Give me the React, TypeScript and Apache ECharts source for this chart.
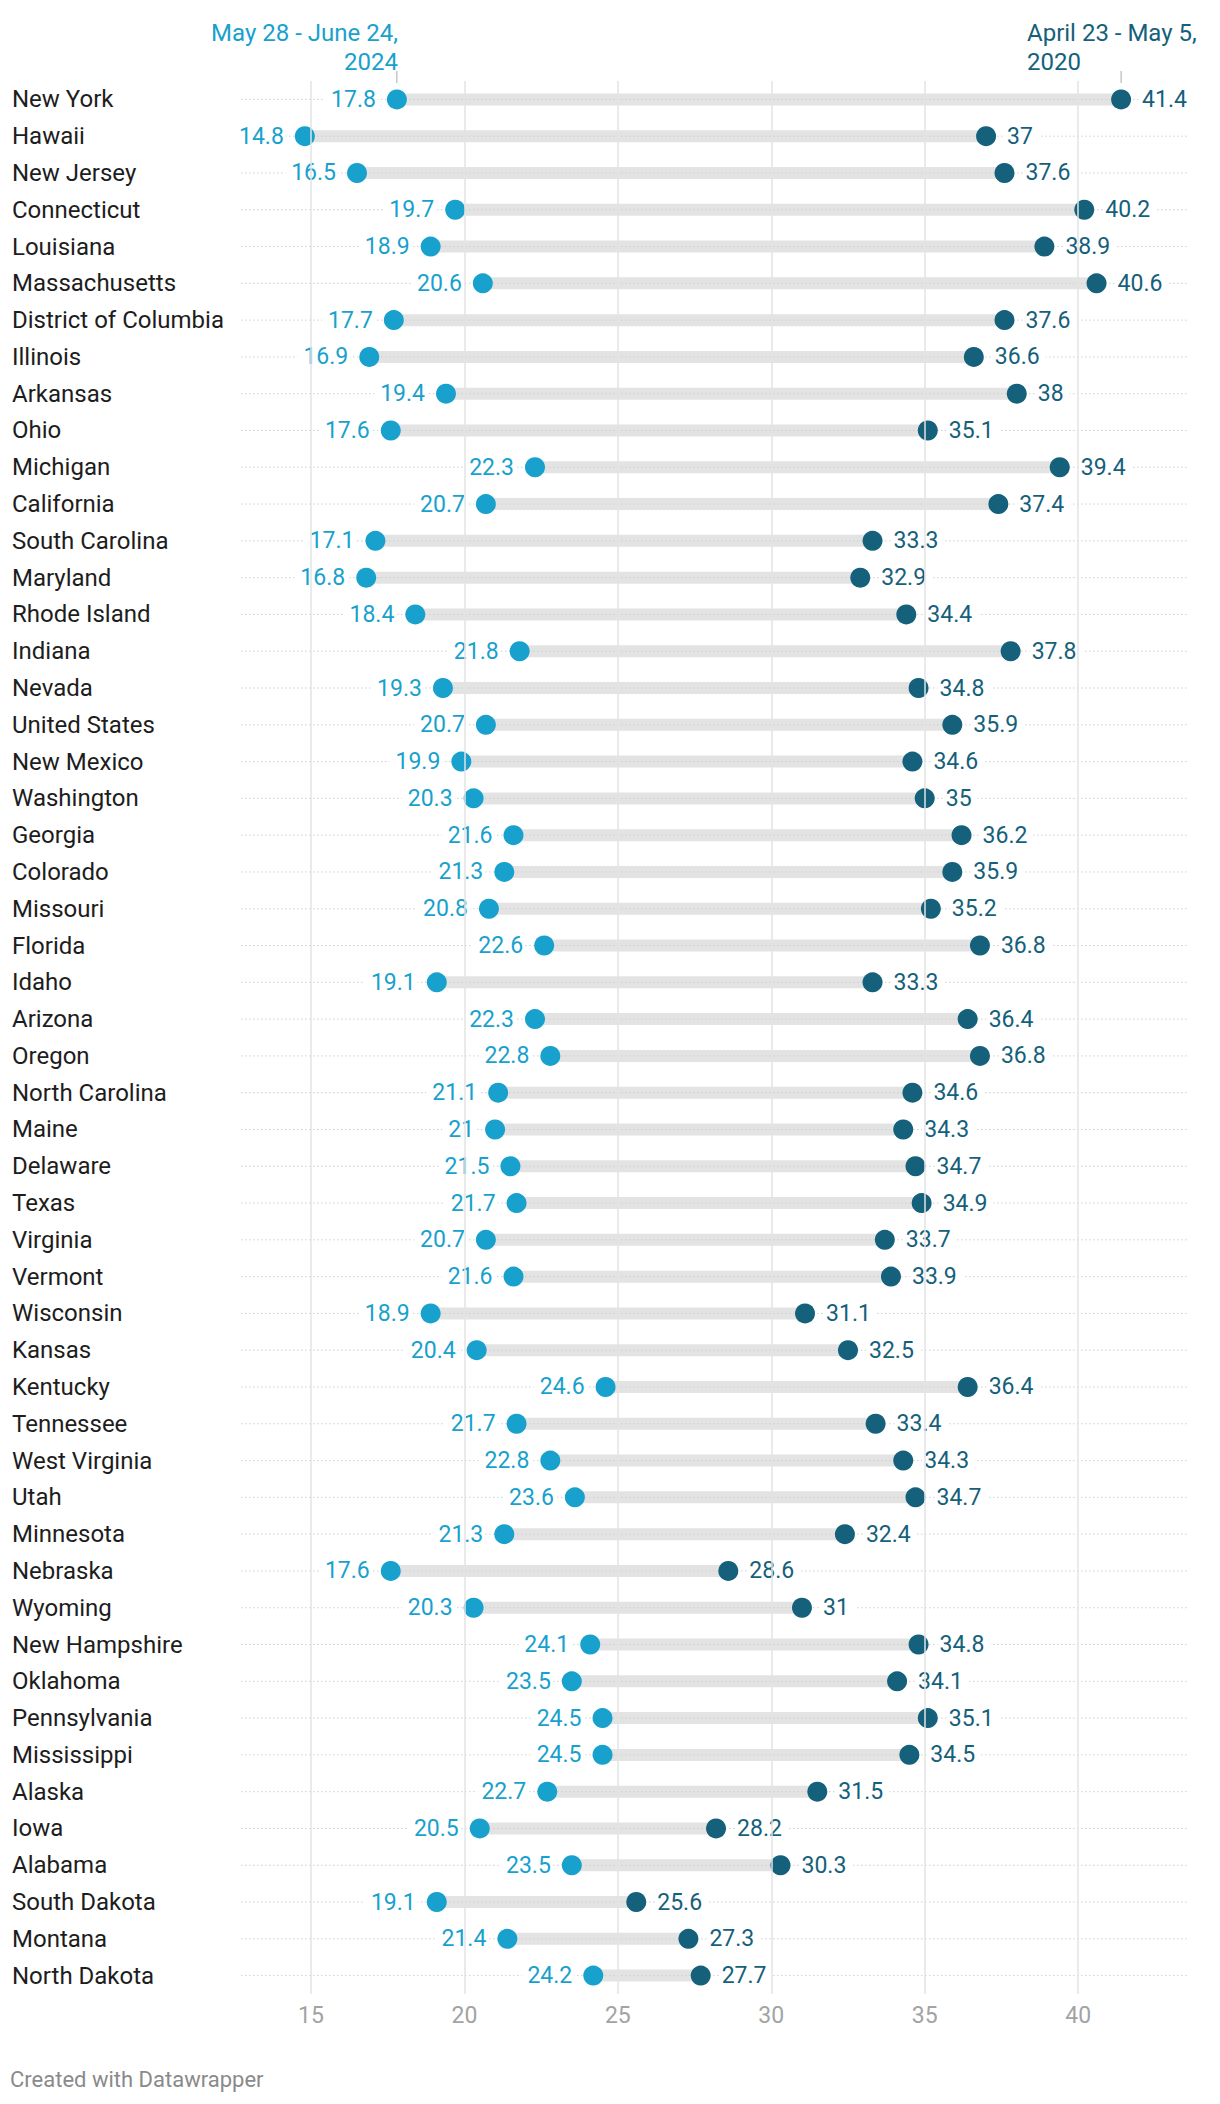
import React, { useEffect, useRef } from "react";
import * as echarts from "echarts";

const states = [
  "New York", "Hawaii", "New Jersey", "Connecticut", "Louisiana", "Massachusetts",
  "District of Columbia", "Illinois", "Arkansas", "Ohio", "Michigan", "California",
  "South Carolina", "Maryland", "Rhode Island", "Indiana", "Nevada", "United States",
  "New Mexico", "Washington", "Georgia", "Colorado", "Missouri", "Florida", "Idaho",
  "Arizona", "Oregon", "North Carolina", "Maine", "Delaware", "Texas", "Virginia",
  "Vermont", "Wisconsin", "Kansas", "Kentucky", "Tennessee", "West Virginia", "Utah",
  "Minnesota", "Nebraska", "Wyoming", "New Hampshire", "Oklahoma", "Pennsylvania",
  "Mississippi", "Alaska", "Iowa", "Alabama", "South Dakota", "Montana", "North Dakota",
];

const v2024 = [
  17.8, 14.8, 16.5, 19.7, 18.9, 20.6, 17.7, 16.9, 19.4, 17.6, 22.3, 20.7, 17.1, 16.8,
  18.4, 21.8, 19.3, 20.7, 19.9, 20.3, 21.6, 21.3, 20.8, 22.6, 19.1, 22.3, 22.8, 21.1,
  21, 21.5, 21.7, 20.7, 21.6, 18.9, 20.4, 24.6, 21.7, 22.8, 23.6, 21.3, 17.6, 20.3,
  24.1, 23.5, 24.5, 24.5, 22.7, 20.5, 23.5, 19.1, 21.4, 24.2,
];

const v2020 = [
  41.4, 37, 37.6, 40.2, 38.9, 40.6, 37.6, 36.6, 38, 35.1, 39.4, 37.4, 33.3, 32.9,
  34.4, 37.8, 34.8, 35.9, 34.6, 35, 36.2, 35.9, 35.2, 36.8, 33.3, 36.4, 36.8, 34.6,
  34.3, 34.7, 34.9, 33.7, 33.9, 31.1, 32.5, 36.4, 33.4, 34.3, 34.7, 32.4, 28.6, 31,
  34.8, 34.1, 35.1, 34.5, 31.5, 28.2, 30.3, 25.6, 27.3, 27.7,
];

const xTicks = [15, 20, 25, 30, 35, 40];
const label2024 = "May 28 - June 24,\n2024";
const label2020 = "April 23 - May 5,\n2020";
const footer = "Created with Datawrapper";

const C2024 = "#18a1cd";
const C2020 = "#15607a";
const FONT = "Roboto, 'Noto Sans', sans-serif";

export default function App() {
  const ref = useRef<HTMLDivElement>(null);

  useEffect(() => {
    document.body.style.margin = "0";
    const chart = echarts.init(ref.current!, null, { renderer: "svg" });
    const XMIN = 12.72;
    const XMAX = 43.58;

    chart.setOption({
      animation: false,
      textStyle: { fontFamily: FONT },
      grid: { left: 241, right: 32, top: 81, height: 1913, containLabel: false },
      xAxis: {
        type: "value",
        min: XMIN,
        max: XMAX,
        axisLine: { show: false },
        axisTick: { show: false },
        splitLine: { show: false },
        axisLabel: {
          customValues: xTicks,
          color: "#a3a3a3",
          fontSize: 23,
          margin: 10,
          fontFamily: FONT,
        },
      },
      yAxis: {
        type: "category",
        inverse: true,
        data: states,
        axisLine: { show: false },
        axisTick: { show: false },
        splitLine: { show: false },
        axisLabel: {
          align: "left",
          margin: 229,
          color: "#1d1d1d",
          fontSize: 24,
          fontFamily: FONT,
        },
      },
      series: [
        {
          type: "custom",
          name: "rows",
          z: 1,
          data: states.map((s, i) => [i, v2024[i], v2020[i]]),
          encode: { x: [1, 2], y: 0 },
          renderItem: (params: any, api: any) => {
            const i = api.value(0);
            const a = api.value(1);
            const b = api.value(2);
            const pL = api.coord([XMIN, i]);
            const pR = api.coord([XMAX, i]);
            const pa = api.coord([a, i]);
            const pb = api.coord([b, i]);
            return {
              type: "group",
              children: [
                {
                  type: "rect",
                  shape: { x: pa[0], y: pa[1] - 6, width: pb[0] - pa[0], height: 12 },
                  style: { fill: "#e3e3e3" },
                },
                {
                  type: "line",
                  shape: { x1: pL[0], y1: pL[1], x2: pR[0], y2: pR[1] },
                  style: { stroke: "#cfcfcf", lineWidth: 1, lineDash: [1.5, 2.5] },
                },
              ],
            };
          },
          markLine: {
            silent: true,
            symbol: "none",
            label: { show: false },
            lineStyle: { color: "#e3e3e3", type: "solid", width: 1.5 },
            data: xTicks.map((v) => ({ xAxis: v })),
          },
        },
        {
          type: "scatter",
          name: "May 28 - June 24, 2024",
          z: 3,
          symbolSize: 20,
          itemStyle: { color: C2024, opacity: 1 },
          data: v2024.map((v, i) => [v, i]),
          label: {
            show: true,
            position: "left",
            distance: 9,
            color: C2024,
            fontSize: 23,
            fontFamily: FONT,
            backgroundColor: "#ffffff",
            padding: [0, 2, 0, 6],
            formatter: (p: any) => String(p.value[0]),
          },
        },
        {
          type: "scatter",
          name: "April 23 - May 5, 2020",
          z: 3,
          symbolSize: 20,
          itemStyle: { color: C2020, opacity: 1 },
          data: v2020.map((v, i) => [v, i]),
          label: {
            show: true,
            position: "right",
            distance: 9,
            color: C2020,
            fontSize: 23,
            fontFamily: FONT,
            backgroundColor: "#ffffff",
            padding: [0, 6, 0, 2],
            formatter: (p: any) => String(p.value[0]),
          },
        },
      ],
    });

    const p24 = chart.convertToPixel({ xAxisIndex: 0, yAxisIndex: 0 }, [v2024[0], 0]) as number[];
    const p20 = chart.convertToPixel({ xAxisIndex: 0, yAxisIndex: 0 }, [v2020[0], 0]) as number[];

    chart.setOption({
      graphic: [
        {
          type: "text",
          x: p24[0] + 1,
          y: 18,
          style: {
            text: label2024,
            fill: C2024,
            font: `24px ${FONT}`,
            align: "right",
            verticalAlign: "top",
            lineHeight: 29,
          },
        },
        {
          type: "line",
          shape: { x1: p24[0], y1: 71, x2: p24[0], y2: 83 },
          style: { stroke: "#aaaaaa", lineWidth: 1 },
        },
        {
          type: "text",
          x: 1027,
          y: 18,
          style: {
            text: label2020,
            fill: C2020,
            font: `24px ${FONT}`,
            align: "left",
            verticalAlign: "top",
            lineHeight: 29,
          },
        },
        {
          type: "line",
          shape: { x1: p20[0], y1: 71, x2: p20[0], y2: 83 },
          style: { stroke: "#aaaaaa", lineWidth: 1 },
        },
        {
          type: "text",
          x: 10,
          y: 2079,
          style: {
            text: footer,
            fill: "#8a8a8a",
            font: `22px ${FONT}`,
            align: "left",
            verticalAlign: "middle",
          },
        },
      ],
    });

    return () => chart.dispose();
  }, []);

  return <div ref={ref} style={{ width: 1220, height: 2104 }} />;
}
